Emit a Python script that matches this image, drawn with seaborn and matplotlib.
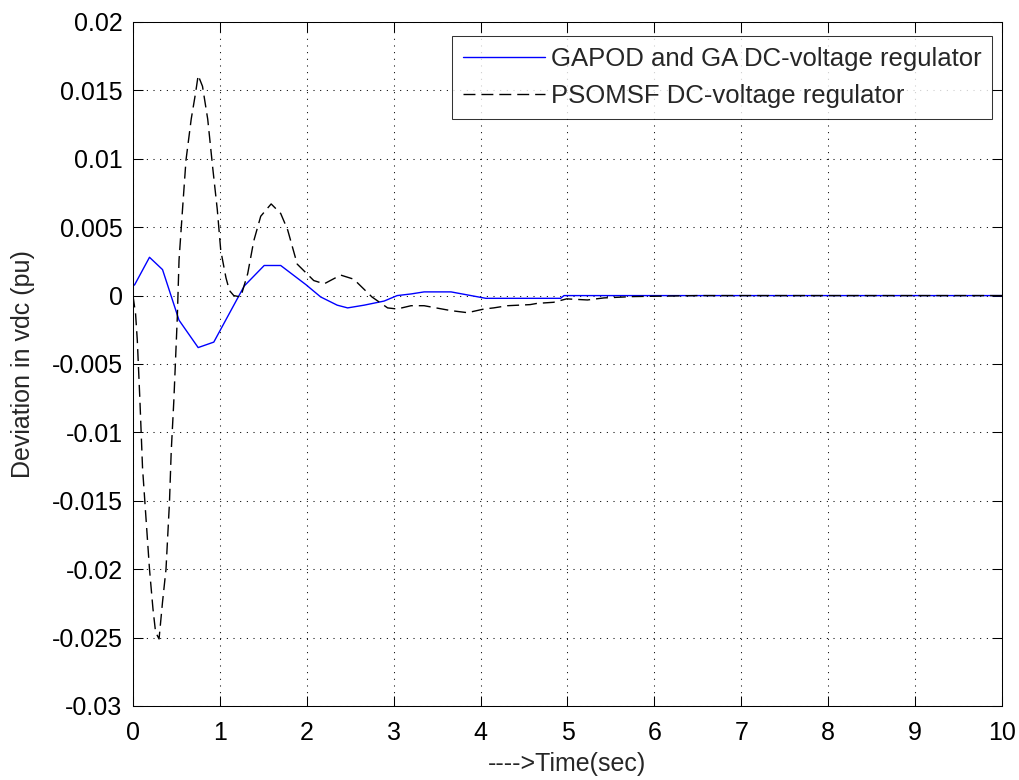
import matplotlib
matplotlib.use("Agg")
import matplotlib.pyplot as plt
import seaborn as sns
import pandas as pd

# GAPOD and GA DC-voltage regulator (blue, solid)
t_ga = [0.0, 0.02, 0.19, 0.34, 0.53, 0.75, 0.93, 1.28, 1.51, 1.70, 1.99, 2.16, 2.35,
        2.47, 2.66, 2.89, 3.04, 3.20, 3.35, 3.66, 3.89, 4.06, 4.92, 4.96, 6.0, 8.0, 10.0]
v_ga = [0.0007, 0.0008, 0.0028, 0.0019, -0.0018, -0.0038, -0.0034, 0.0007, 0.0022, 0.0022,
        0.0008, -0.0001, -0.0007, -0.0009, -0.0007, -0.0004, 0.0, 0.00012, 0.00027, 0.00027,
        0.0, -0.0002, -0.0002, 0.0, 0.0, 0.0, 0.0]

# PSOMSF DC-voltage regulator (black, dashed)
t_ps = [0.0, 0.03, 0.05, 0.08, 0.11, 0.15, 0.19, 0.23, 0.26, 0.30, 0.34, 0.38, 0.42, 0.44,
        0.47, 0.51, 0.53, 0.57, 0.61, 0.67, 0.72, 0.75, 0.80, 0.86, 0.92, 0.97, 1.01, 1.07,
        1.11, 1.16, 1.24, 1.32, 1.39, 1.47, 1.59, 1.70, 1.78, 1.89, 2.08, 2.20, 2.39, 2.54,
        2.75, 2.93, 3.04, 3.20, 3.35, 3.66, 3.85, 4.04, 4.15, 4.31, 4.57, 4.65, 4.84, 4.99,
        5.23, 5.42, 5.76, 6.5, 8.0, 10.0]
v_ps = [0.0, -0.00135, -0.0033, -0.0077, -0.0126, -0.0163, -0.0200, -0.0229, -0.0246, -0.0251,
        -0.0224, -0.0200, -0.0151, -0.0114, -0.0077, -0.0016, 0.0026, 0.0063, 0.0099, 0.0129,
        0.0148, 0.0161, 0.0153, 0.0129, 0.0092, 0.0063, 0.0033, 0.0013, 0.00037, 0.0, -0.0001,
        0.0016, 0.0040, 0.0058, 0.0067, 0.0060, 0.0048, 0.0023, 0.0011, 0.00086, 0.0015, 0.0012,
        -0.0001, -0.0009, -0.00098, -0.00074, -0.00074, -0.0011, -0.00125, -0.00098, -0.0009,
        -0.00074, -0.00066, -0.00057, -0.00049, -0.00024, -0.00032, -0.00017, -0.00007, 0.0,
        0.0, 0.0]

labels = ["GAPOD and GA DC-voltage regulator", "PSOMSF DC-voltage regulator"]
x_ticks = [0, 1, 2, 3, 4, 5, 6, 7, 8, 9, 10]
y_ticks = [-0.03, -0.025, -0.02, -0.015, -0.01, -0.005, 0, 0.005, 0.01, 0.015, 0.02]
y_tick_labels = ["-0.03", "-0.025", "-0.02", "-0.015", "-0.01", "-0.005", "0",
                 "0.005", "0.01", "0.015", "0.02"]

sns.set_theme(style="white")
plt.rcParams['font.family'] = ['Liberation Sans', 'DejaVu Sans']
FS = 18

df = pd.concat([
    pd.DataFrame({"t": t_ga, "v": v_ga, "series": labels[0]}),
    pd.DataFrame({"t": t_ps, "v": v_ps, "series": labels[1]}),
], ignore_index=True)

fig = plt.figure(figsize=(10.19, 7.8), dpi=100)
ax = fig.add_axes([0.1305, 0.0949, 0.8528, 0.8769])

sns.lineplot(data=df, x="t", y="v", hue="series", style="series",
             palette={labels[0]: "#0000ff", labels[1]: "black"},
             dashes={labels[0]: "", labels[1]: (8.6, 4.3)},
             sort=False, estimator=None, linewidth=1.0, ax=ax)

ax.set_xlim(0, 10)
ax.set_ylim(-0.03, 0.02)
ax.set_xticks(x_ticks)
ax.set_xticklabels([str(v) for v in x_ticks])
ax.set_yticks(y_ticks)
ax.set_yticklabels(y_tick_labels)
ax.grid(True, color="black", linestyle=(0, (1, 5.4)), linewidth=0.75)
ax.tick_params(direction="in", length=7, width=0.75, colors="black", labelsize=FS,
               top=True, right=True, bottom=True, left=True)
ax.tick_params(axis="x", pad=11)
ax.tick_params(axis="y", pad=7.5)
for s in ax.spines.values():
    s.set_color("black")
    s.set_linewidth(0.75)
ax.set_xlabel("---->Time(sec)", fontsize=FS)
ax.set_ylabel("Deviation in vdc (pu)", fontsize=FS)
ax.xaxis.set_label_coords(0.5, -0.068)
ax.yaxis.set_label_coords(-0.113, 0.5)

h, l = ax.get_legend_handles_labels()
leg = ax.legend(h, l, loc="upper right", bbox_to_anchor=(992 / 1019, 1 - 36 / 780),
                bbox_transform=fig.transFigure, fontsize=18.5, frameon=True, fancybox=False,
                edgecolor="black", handlelength=3.2, borderaxespad=0.0,
                borderpad=0.42, labelspacing=0.52, handletextpad=0.2)
leg.get_frame().set_linewidth(0.75)

fig.savefig("out.png", dpi=100, facecolor="white")
